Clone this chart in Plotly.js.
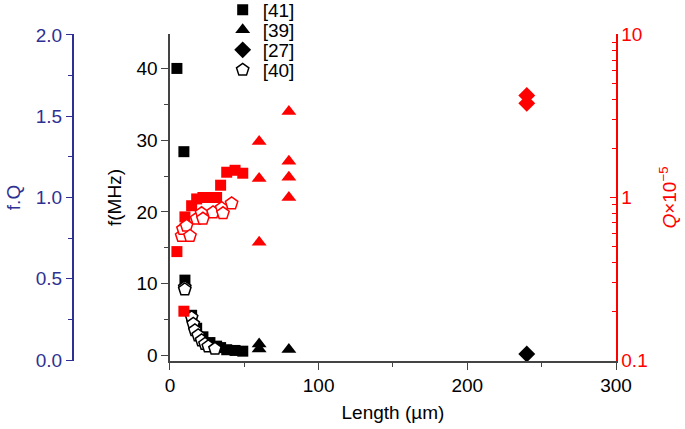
<!DOCTYPE html>
<html>
<head>
<meta charset="utf-8">
<script src="https://cdn.plot.ly/plotly-3.0.1.min.js"></script>
<style>html,body{margin:0;padding:0;background:#fff}#chart{width:685px;height:429px}</style>
</head>
<body>
<div id="chart"></div>
<script>
// [41] squares
const sq41_len = [4.7, 9.4, 10.1, 14.6, 18, 22.2, 26.9, 31.4, 34.1, 38.2, 43.8, 49];
const sq41_f   = [40, 28.4, 10.5, 5.6, 3.8, 2.6, 1.8, 1.3, 1.1, 0.8, 0.7, 0.6];
const sq41_Q   = [0.465, 0.2, 0.76, 0.89, 0.98, 1.0, 1.0, 1.0, 1.19, 1.43, 1.47, 1.41];
// [39] triangles
const tri39_len_f = [60, 60, 80];
const tri39_f     = [1.6, 0.9, 0.85];
const tri39_len_Q = [60, 60, 60, 80, 80, 80, 80];
const tri39_Q     = [2.21, 1.31, 0.53, 3.38, 1.67, 1.33, 1.0];
// [27] diamonds
const dia27_len_f = [240];
const dia27_f     = [0.2];
const dia27_len_Q = [240, 240];
const dia27_Q     = [4.24, 3.79];
// [40] pentagons
const pen40_len_f = [10, 10, 14.6, 15.7, 16.8, 19, 21.3, 23.6, 25.8, 30.3];
const pen40_f     = [9.5, 9.2, 5.3, 4.4, 3.5, 2.8, 2.1, 1.6, 1.25, 0.93];
const pen40_len_Q = [7.9, 8.75, 11.2, 13.5, 18, 21.3, 22.2, 29, 34.8, 35.7, 41.5];
const pen40_Q     = [0.58, 0.64, 0.67, 0.58, 0.74, 0.80, 0.74, 0.81, 0.86, 0.80, 0.92];

const legendNames = ['[41]', '[39]', '[27]', '[40]'];
const RED = '#ff0000', BLUE = '#2e3192', AX = '#444444';
const FONT = 'Liberation Sans, Arial, sans-serif';
const FS = 19;

const traces = [
  {x: sq41_len, y: sq41_f, name: legendNames[0], legend: 'legend', type: 'scatter', mode: 'markers',
   marker: {symbol: 'square', size: 11, color: '#000'}},
  {x: tri39_len_f, y: tri39_f, name: legendNames[1], legend: 'legend2', type: 'scatter', mode: 'markers',
   marker: {symbol: 'triangle-up', size: 13, color: '#000'}},
  {x: dia27_len_f, y: dia27_f, name: legendNames[2], legend: 'legend3', type: 'scatter', mode: 'markers',
   marker: {symbol: 'diamond', size: 13, color: '#000'}},
  {x: pen40_len_f, y: pen40_f, name: legendNames[3], legend: 'legend4', type: 'scatter', mode: 'markers',
   marker: {symbol: 'pentagon', size: 13, color: '#fff', line: {color: '#000', width: 1.5}}},
  {x: sq41_len, y: sq41_Q, yaxis: 'y2', showlegend: false, type: 'scatter', mode: 'markers',
   marker: {symbol: 'square', size: 11, color: RED}},
  {x: tri39_len_Q, y: tri39_Q, yaxis: 'y2', showlegend: false, type: 'scatter', mode: 'markers',
   marker: {symbol: 'triangle-up', size: 13, color: RED}},
  {x: dia27_len_Q, y: dia27_Q, yaxis: 'y2', showlegend: false, type: 'scatter', mode: 'markers',
   marker: {symbol: 'diamond', size: 13, color: RED}},
  {x: pen40_len_Q, y: pen40_Q, yaxis: 'y2', showlegend: false, type: 'scatter', mode: 'markers',
   marker: {symbol: 'pentagon', size: 13, color: '#fff', line: {color: RED, width: 1.5}}},
  {x: [null], y: [null], yaxis: 'y3', showlegend: false, type: 'scatter', mode: 'markers', hoverinfo: 'skip'}
];

const H = 429 - 34 - 68;
function legAt(py) {
  return {x: 0.277, y: (361 - py) / H, xanchor: 'left', yanchor: 'middle', bgcolor: 'rgba(0,0,0,0)',
          font: {size: FS, family: FONT, color: '#000'}, itemwidth: 30, borderwidth: 0};
}

const layout = {
  width: 685, height: 429,
  margin: {l: 72, r: 69, t: 34, b: 68, autoexpand: false},
  paper_bgcolor: '#fff', plot_bgcolor: '#fff',
  font: {family: FONT, size: FS, color: '#000'},
  showlegend: true,
  legend: legAt(10), legend2: legAt(30), legend3: legAt(50), legend4: legAt(70),
  xaxis: {domain: [0.18, 1], range: [0, 300], showgrid: false, zeroline: false,
          showline: true, linecolor: AX, linewidth: 1.5, ticks: 'outside', ticklen: 7, tickcolor: AX,
          tickvals: [0, 100, 200, 300], ticktext: ['0', '100', '200', '300'],
          minor: {tickvals: [50, 150, 250], ticks: 'outside', ticklen: 4, tickcolor: AX},
          title: {text: 'Length (µm)', standoff: 10, font: {size: FS}}},
  yaxis: {range: [-0.77, 44.8], showgrid: false, zeroline: false, anchor: 'x',
          showline: true, linecolor: AX, linewidth: 1.5, ticks: 'outside', ticklen: 7, tickcolor: AX,
          tickvals: [0, 10, 20, 30, 40],
          minor: {tickvals: [5, 15, 25, 35, 45], ticks: 'outside', ticklen: 4, tickcolor: AX},
          title: {text: 'f(MHz)', standoff: 10, font: {size: FS}}},
  yaxis2: {type: 'log', range: [-1.005, 1.005], overlaying: 'y', side: 'right', anchor: 'x',
           showgrid: false, zeroline: false, showline: true, linecolor: RED, linewidth: 1.5,
           ticks: 'inside', ticklen: 6, tickcolor: RED, tickfont: {color: RED, size: FS},
           tickvals: [0.1, 1, 10], ticktext: ['0.1', '1', '10'],
           minor: {tickvals: [0.2,0.3,0.4,0.5,0.6,0.7,0.8,0.9,2,3,4,5,6,7,8,9], ticks: 'inside', ticklen: 4, tickcolor: RED},
           title: {text: '<i>Q</i>×10<sup>−5</sup>', standoff: 16, font: {color: RED, size: FS}}},
  yaxis3: {range: [-0.006, 2.006], overlaying: 'y', side: 'left', anchor: 'free', position: 0,
           showgrid: false, zeroline: false, showline: true, linecolor: BLUE, linewidth: 1.5,
           ticks: 'outside', ticklen: 6, tickcolor: BLUE, tickfont: {color: BLUE, size: FS},
           tickvals: [0, 0.5, 1, 1.5, 2], ticktext: ['0.0', '0.5', '1.0', '1.5', '2.0'],
           minor: {tickvals: [0.25, 0.75, 1.25, 1.75], ticks: 'outside', ticklen: 4, tickcolor: BLUE},
           title: {text: 'f.Q', standoff: 8, font: {color: BLUE, size: FS}}}
};

Plotly.newPlot('chart', traces, layout, {displayModeBar: false, staticPlot: true});
</script>
</body>
</html>
